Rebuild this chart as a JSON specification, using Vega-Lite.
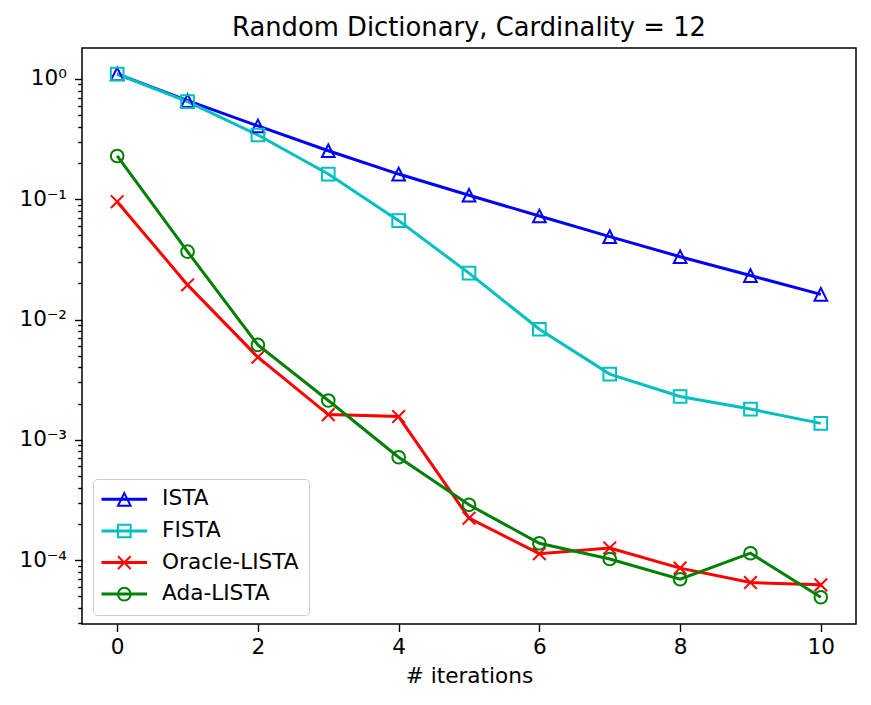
{
  "$schema": "https://vega.github.io/schema/vega-lite/v6.json",
  "width": 774,
  "height": 576,
  "autosize": {"type": "none"},
  "padding": {"left": 82, "top": 48, "right": 15, "bottom": 81},
  "background": "white",
  "title": {
    "text": "Random Dictionary, Cardinality = 12",
    "font": "DejaVu Sans",
    "fontSize": 25.8,
    "fontWeight": "normal",
    "color": "black",
    "offset": 6
  },
  "data": {
    "values": [
      {"series": "ISTA", "iter": 0, "value": 1.10},
      {"series": "ISTA", "iter": 1, "value": 0.66},
      {"series": "ISTA", "iter": 2, "value": 0.407},
      {"series": "ISTA", "iter": 3, "value": 0.253},
      {"series": "ISTA", "iter": 4, "value": 0.162},
      {"series": "ISTA", "iter": 5, "value": 0.108},
      {"series": "ISTA", "iter": 6, "value": 0.0726},
      {"series": "ISTA", "iter": 7, "value": 0.0489},
      {"series": "ISTA", "iter": 8, "value": 0.0333},
      {"series": "ISTA", "iter": 9, "value": 0.0232},
      {"series": "ISTA", "iter": 10, "value": 0.0162},
      {"series": "FISTA", "iter": 0, "value": 1.10},
      {"series": "FISTA", "iter": 1, "value": 0.648},
      {"series": "FISTA", "iter": 2, "value": 0.342},
      {"series": "FISTA", "iter": 3, "value": 0.162},
      {"series": "FISTA", "iter": 4, "value": 0.0664},
      {"series": "FISTA", "iter": 5, "value": 0.0243},
      {"series": "FISTA", "iter": 6, "value": 0.0083},
      {"series": "FISTA", "iter": 7, "value": 0.00352},
      {"series": "FISTA", "iter": 8, "value": 0.00229},
      {"series": "FISTA", "iter": 9, "value": 0.0018},
      {"series": "FISTA", "iter": 10, "value": 0.00137},
      {"series": "Oracle-LISTA", "iter": 0, "value": 0.0955},
      {"series": "Oracle-LISTA", "iter": 1, "value": 0.0194},
      {"series": "Oracle-LISTA", "iter": 2, "value": 0.00486},
      {"series": "Oracle-LISTA", "iter": 3, "value": 0.00162},
      {"series": "Oracle-LISTA", "iter": 4, "value": 0.00156},
      {"series": "Oracle-LISTA", "iter": 5, "value": 0.000223},
      {"series": "Oracle-LISTA", "iter": 6, "value": 0.000113},
      {"series": "Oracle-LISTA", "iter": 7, "value": 0.000126},
      {"series": "Oracle-LISTA", "iter": 8, "value": 0.0000857},
      {"series": "Oracle-LISTA", "iter": 9, "value": 0.000065},
      {"series": "Oracle-LISTA", "iter": 10, "value": 0.0000622},
      {"series": "Ada-LISTA", "iter": 0, "value": 0.229},
      {"series": "Ada-LISTA", "iter": 1, "value": 0.0367},
      {"series": "Ada-LISTA", "iter": 2, "value": 0.00615},
      {"series": "Ada-LISTA", "iter": 3, "value": 0.00212},
      {"series": "Ada-LISTA", "iter": 4, "value": 0.000716},
      {"series": "Ada-LISTA", "iter": 5, "value": 0.000288},
      {"series": "Ada-LISTA", "iter": 6, "value": 0.000138},
      {"series": "Ada-LISTA", "iter": 7, "value": 0.000102},
      {"series": "Ada-LISTA", "iter": 8, "value": 0.0000693},
      {"series": "Ada-LISTA", "iter": 9, "value": 0.000114},
      {"series": "Ada-LISTA", "iter": 10, "value": 0.0000491}
    ]
  },
  "encoding": {
    "x": {
      "field": "iter",
      "type": "quantitative",
      "title": "# iterations",
      "scale": {"domain": [-0.5, 10.5], "nice": false, "zero": false},
      "axis": {
        "values": [0, 2, 4, 6, 8, 10],
        "format": "d",
        "grid": false,
        "domain": false,
        "tickSize": 7.5,
        "tickWidth": 1.4,
        "tickColor": "black",
        "labelPadding": 5,
        "labelFontSize": 21.6,
        "labelColor": "black",
        "labelFont": "DejaVu Sans",
        "titleFont": "DejaVu Sans",
        "titleFontSize": 21.6,
        "titleFontWeight": "normal",
        "titleColor": "black",
        "titlePadding": 7
      }
    },
    "y": {
      "field": "value",
      "type": "quantitative",
      "title": null,
      "scale": {"type": "log", "domain": [0.0000294, 1.81], "nice": false},
      "axis": {
        "values": [0.00003, 0.00004, 0.00005, 0.00006, 0.00007, 0.00008, 0.00009,
                   0.0001, 0.0002, 0.0003, 0.0004, 0.0005, 0.0006, 0.0007, 0.0008, 0.0009,
                   0.001, 0.002, 0.003, 0.004, 0.005, 0.006, 0.007, 0.008, 0.009,
                   0.01, 0.02, 0.03, 0.04, 0.05, 0.06, 0.07, 0.08, 0.09,
                   0.1, 0.2, 0.3, 0.4, 0.5, 0.6, 0.7, 0.8, 0.9, 1],
        "labelExpr": "abs(log(datum.value)/LN10 - round(log(datum.value)/LN10)) < 0.01 ? ['10⁰','10⁻¹','10⁻²','10⁻³','10⁻⁴'][-round(log(datum.value)/LN10)] : ''",
        "grid": false,
        "domain": false,
        "tickSize": {"condition": {"test": "abs(log(datum.value)/LN10 - round(log(datum.value)/LN10)) < 0.01", "value": 7.5}, "value": 4.3},
        "tickWidth": 1.4,
        "tickColor": "black",
        "labelPadding": 8,
        "labelOverlap": false,
        "labelFlush": false,
        "labelFontSize": 21.6,
        "labelColor": "black",
        "labelFont": "DejaVu Sans"
      }
    }
  },
  "layer": [
    {
      "mark": {"type": "line", "strokeWidth": 3},
      "encoding": {
        "stroke": {
          "field": "series",
          "type": "nominal",
          "sort": ["ISTA", "FISTA", "Oracle-LISTA", "Ada-LISTA"],
          "scale": {"range": ["#0000ff", "#00bfbf", "#ff0000", "#008000"]},
          "legend": {
            "orient": "none",
            "legendX": 11,
            "legendY": 431,
            "title": null,
            "padding": 9.5,
            "strokeColor": "#cccccc",
            "cornerRadius": 4,
            "symbolType": "M-4.56,0L4.56,0",
            "symbolSize": 100,
            "symbolStrokeWidth": 3,
            "symbolOffset": 11,
            "labelOffset": 27,
            "rowPadding": 8.6,
            "labelFont": "DejaVu Sans",
            "labelFontSize": 21.6,
            "labelColor": "black",
            "labelLimit": 0
          }
        }
      }
    },
    {
      "mark": {"type": "point", "filled": false, "size": 160, "strokeWidth": 2, "opacity": 1},
      "encoding": {
        "color": {
          "field": "series",
          "type": "nominal",
          "scale": {
            "domain": ["ISTA", "FISTA", "Oracle-LISTA", "Ada-LISTA"],
            "range": ["#0000ff", "#00bfbf", "#ff0000", "#008000"]
          },
          "legend": {
            "orient": "none",
            "legendX": 34.8,
            "legendY": 443.9,
            "title": null,
            "padding": 0,
            "symbolSize": 160,
            "symbolStrokeWidth": 2,
            "rowPadding": 10.6,
            "labelExpr": "''",
            "labelFontSize": 1,
            "labelOffset": 0
          }
        },
        "shape": {
          "field": "series",
          "type": "nominal",
          "scale": {
            "domain": ["ISTA", "FISTA", "Oracle-LISTA", "Ada-LISTA"],
            "range": ["M0,-1L1,1L-1,1Z", "square", "M-1,-1L1,1M-1,1L1,-1", "circle"]
          },
          "legend": {
            "orient": "none",
            "legendX": 34.8,
            "legendY": 443.9,
            "title": null,
            "padding": 0,
            "symbolSize": 160,
            "symbolStrokeWidth": 2,
            "rowPadding": 10.6,
            "labelExpr": "''",
            "labelFontSize": 1,
            "labelOffset": 0
          }
        }
      }
    }
  ],
  "config": {
    "view": {"stroke": "black", "strokeWidth": 1.5},
    "font": "DejaVu Sans"
  }
}
